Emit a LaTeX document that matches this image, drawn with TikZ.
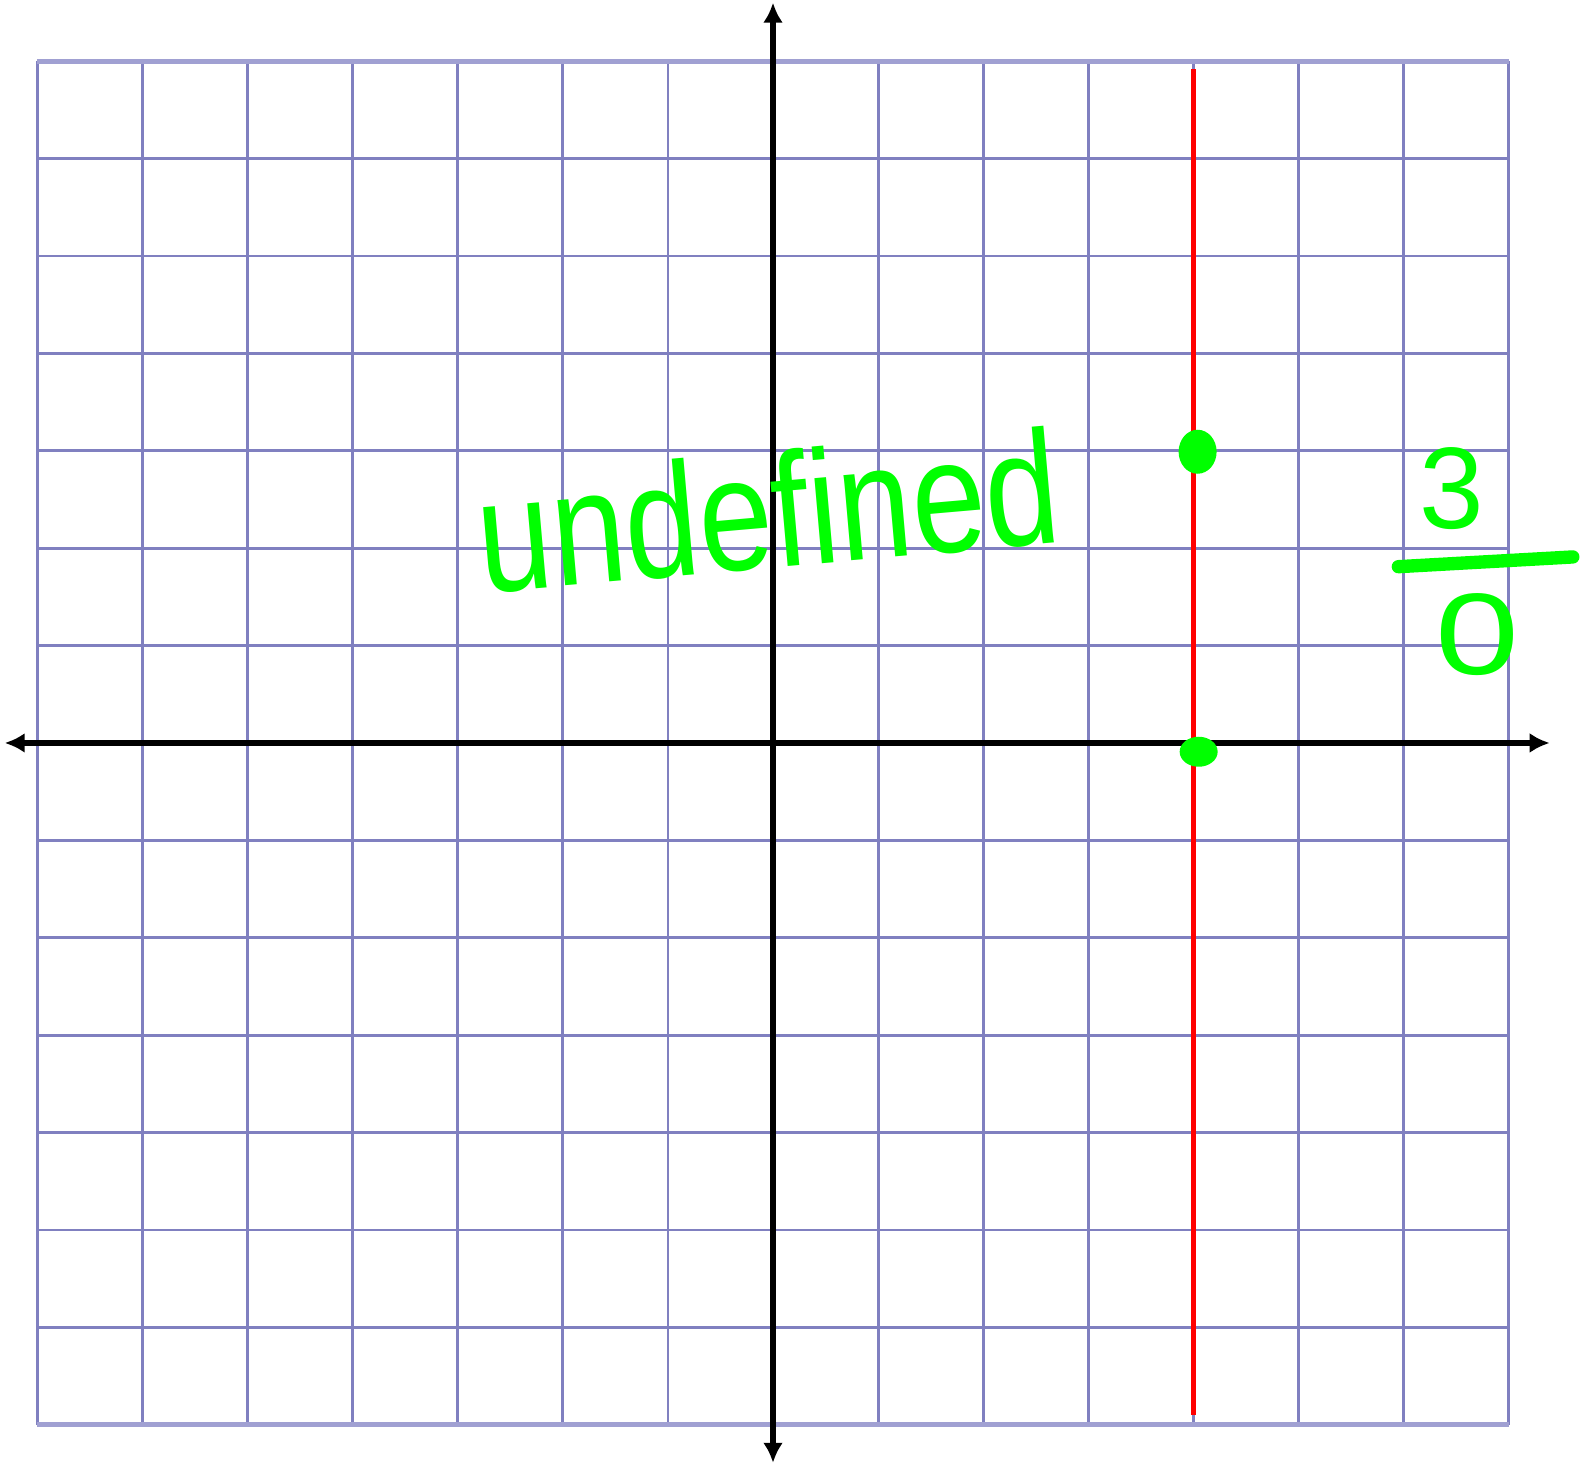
\documentclass[tikz,border=0pt]{standalone}
\usepackage{fontspec}
\setmainfont{Liberation Sans}
\usetikzlibrary{arrows.meta, shapes.geometric}
\definecolor{gridblue}{RGB}{128,128,192}
\definecolor{gridedge}{RGB}{160,160,210}
\definecolor{markgreen}{RGB}{0,255,0}

\begin{document}
\begin{tikzpicture}[
    x=1.051cm, y=0.974cm,
    gridline/.style={draw=gridblue, line width=0.8pt},
    edgeline/.style={draw=gridedge, line width=1.4pt},
    axis/.style={line width=1.6pt, {Latex[length=2mm, width=2mm]}-{Latex[length=2mm, width=2mm]}},
    redline/.style={draw=red, line width=1.6pt},
    dot/.style={ellipse, fill=markgreen, inner sep=0pt},
    hand/.style={text=markgreen, inner sep=0pt},
    barline/.style={draw=markgreen, line width=3.8pt, line cap=round}
  ]
  \useasboundingbox (-7.355,-7.403) rectangle (7.726,7.628);
  \draw[gridline, step={(1,1)}] (-7,-7) grid (7,7);
  \draw[edgeline] (-7,7) -- (7,7);
  \draw[edgeline] (-7,-7) -- (7,-7);

  \coordinate (rtop) at (4,6.92);
  \coordinate (rbot) at (4,-6.9);
  \draw[redline] (rtop) -- (rbot);

  \coordinate (xl) at (-7.31,0);
  \coordinate (xr) at (7.39,0);
  \coordinate (yt) at (0,7.60);
  \coordinate (yb) at (0,-7.39);
  \draw[axis] (xl) -- (xr);
  \draw[axis] (yb) -- (yt);

  \node[dot, minimum width=0.38cm, minimum height=0.44cm] (pt) at (4.04,2.99) {};
  \node[dot, minimum width=0.38cm, minimum height=0.30cm] (xint) at (4.05,-0.09) {};

  \node[hand, font=\fontsize{46}{46}\selectfont, anchor=base, rotate=5, xscale=0.82] (undef) at (0,1.80) {undefined};

  \node[hand, font=\fontsize{33}{33}\selectfont] (three) at (6.46,2.61) {3};
  \node[hand, font=\fontsize{33}{33}\selectfont, xscale=1.3] (zero) at (6.70,1.11) {0};
  \coordinate (barl) at (5.95,1.81);
  \coordinate (barr) at (7.61,1.91);
  \draw[barline] (barl) -- (barr);
\end{tikzpicture}
\end{document}
